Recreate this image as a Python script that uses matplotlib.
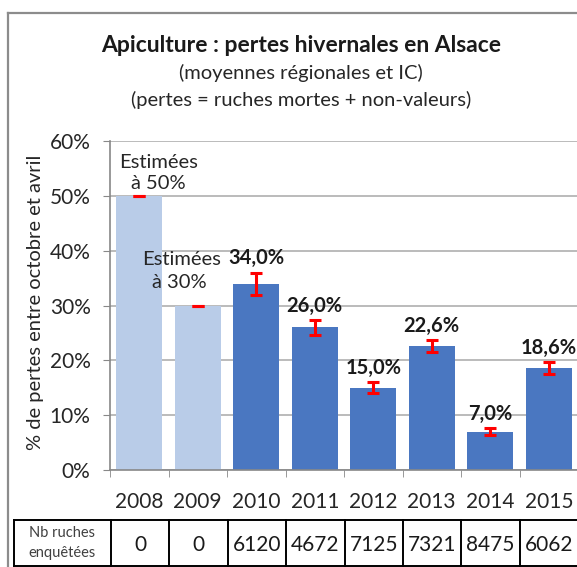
import numpy as np
import matplotlib
matplotlib.use("Agg")
import matplotlib.pyplot as plt
from matplotlib.lines import Line2D

plt.rcParams['font.family'] = ['Lato', 'DejaVu Sans']

years = ['2008', '2009', '2010', '2011', '2012', '2013', '2014', '2015']
losses = [50.0, 30.0, 34.0, 26.0, 15.0, 22.6, 7.0, 18.6]
errors = [0.0, 0.0, 2.0, 1.3, 1.0, 1.1, 0.6, 1.1]
estimated = [True, True, False, False, False, False, False, False]
hives = [0, 0, 6120, 4672, 7125, 7321, 8475, 6062]
yticks = [0, 10, 20, 30, 40, 50, 60]

W, H = 577, 567
fig = plt.figure(figsize=(W / 100, H / 100), dpi=100)
fig.patch.set_facecolor('white')

# plot area in pixels: x 110..578, y 141..470
ax = fig.add_axes([110 / W, 1 - 470 / H, (578 - 110) / W, (470 - 141) / H])

x = np.arange(len(years))
colors = ['#B9CCE8' if e else '#4A77C1' for e in estimated]
ax.bar(x, losses, width=0.79, color=colors, zorder=2)
ax.errorbar(x, losses, yerr=errors, fmt='none', ecolor='#FF0000',
            elinewidth=2.2, capsize=4, capthick=2.2, zorder=3)

for xi, v, e, est in zip(x, losses, errors, estimated):
    if est:
        continue
    ax.annotate(f"{v:.1f}%".replace('.', ','), (xi, v + e), xytext=(0, 3),
                textcoords='offset points', ha='center', va='bottom',
                fontsize=14.5, fontweight='bold', color='#1a1a1a')

ax.text(0.33, 56.0, 'Estimées', ha='center', va='center', fontsize=14.5, color='#262626')
ax.text(0.33, 52.3, 'à 50%', ha='center', va='center', fontsize=14.5, color='#262626')
ax.text(0.73, 38.4, 'Estimées', ha='center', va='center', fontsize=14.5, color='#262626')
ax.text(0.68, 34.2, 'à 30%', ha='center', va='center', fontsize=14.5, color='#262626')

ax.set_xlim(-0.5, len(years) - 0.5)
ax.set_ylim(0, 60)
ax.set_yticks(yticks)
ax.set_yticklabels([f"{t}%" for t in yticks], fontsize=15, color='#262626')
ax.set_xticks(x)
ax.set_xticklabels(years, fontsize=15, color='#262626')
ax.set_xticks(np.arange(len(years)) - 0.5, minor=True)
ax.tick_params(axis='x', which='major', length=0, pad=16)
ax.tick_params(axis='x', which='minor', length=5, color='#888888')
ax.tick_params(axis='y', length=5, color='#888888', pad=9)
ax.grid(axis='y', color='#AFAFAF', linewidth=1.2, zorder=0)
for s in ['top', 'right']:
    ax.spines[s].set_visible(False)
for s in ['left', 'bottom']:
    ax.spines[s].set_color('#888888')
    ax.spines[s].set_linewidth(1.2)

fig.text(36 / W, 1 - 302 / H, '% de pertes entre octobre et avril', rotation=90,
         ha='center', va='center', fontsize=14.5, color='#262626')

fig.text(301 / W, 1 - 45 / H, 'Apiculture : pertes hivernales en Alsace',
         ha='center', va='center', fontsize=16.5, fontweight='bold', color='#1a1a1a')
fig.text(301 / W, 1 - 73 / H, '(moyennes régionales et IC)',
         ha='center', va='center', fontsize=14.5, color='#262626')
fig.text(301 / W, 1 - 100 / H, '(pertes = ruches mortes + non-valeurs)',
         ha='center', va='center', fontsize=14.5, color='#262626')

# outer frame
fig.add_artist(Line2D([8 / W, 8 / W], [0, 1 - 13 / H], transform=fig.transFigure,
                      color='#8C8C8C', linewidth=1.6))
fig.add_artist(Line2D([8 / W, 1], [1 - 13 / H, 1 - 13 / H], transform=fig.transFigure,
                      color='#8C8C8C', linewidth=1.6))

# table under the chart
t_top, t_bot = 520, 566
col_edges = [14] + [111 + 58.4 * i for i in range(len(years) + 1)]
for yy in [t_top, t_bot]:
    fig.add_artist(Line2D([14 / W, 1], [1 - yy / H] * 2, transform=fig.transFigure,
                          color='black', linewidth=1.4))
for xe in col_edges:
    fig.add_artist(Line2D([xe / W] * 2, [1 - t_top / H, 1 - t_bot / H],
                          transform=fig.transFigure, color='black', linewidth=1.4))
fig.text(62 / W, 1 - 533 / H, 'Nb ruches', ha='center', va='center', fontsize=10.5,
         color='#404040')
fig.text(62 / W, 1 - 553 / H, 'enquêtées', ha='center', va='center', fontsize=10.5,
         color='#404040')
for i, n in enumerate(hives):
    xc = 111 + 58.4 * (i + 0.5)
    fig.text(xc / W, 1 - 545 / H, str(n), ha='center', va='center', fontsize=15,
             color='#1a1a1a')

fig.savefig('out.png', dpi=100)
